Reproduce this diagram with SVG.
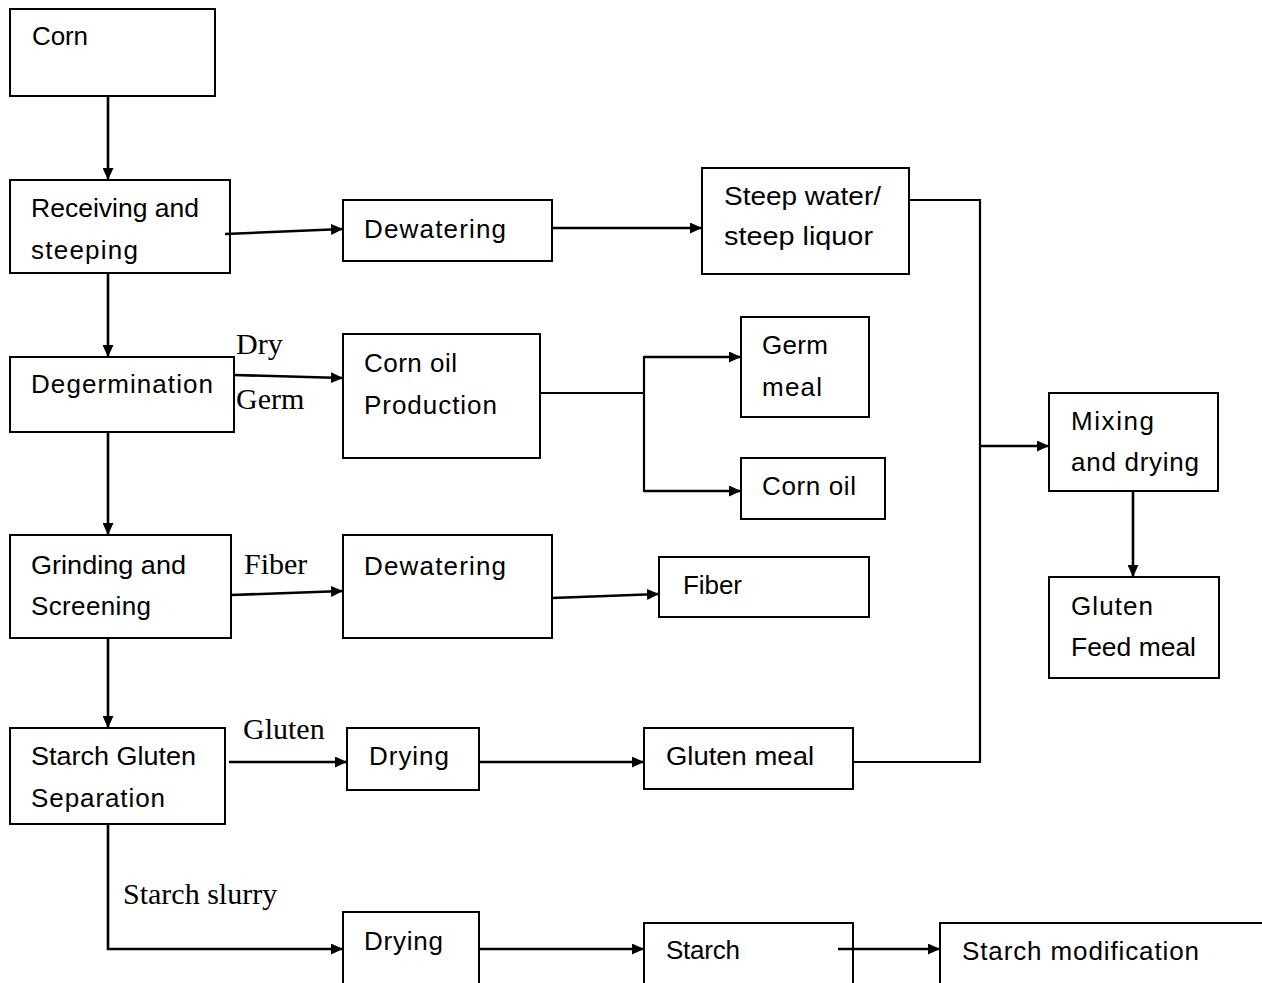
<svg xmlns="http://www.w3.org/2000/svg" width="1262" height="983" viewBox="0 0 1262 983">
<style>
.box{fill:#fff;stroke:#000;stroke-width:2}
.t{font-family:"Liberation Sans",Arial,sans-serif;font-size:26px;fill:#000}
.s{font-family:"Liberation Serif","Times New Roman",serif;font-size:30px;fill:#000}
.c{fill:none;stroke:#000;stroke-width:2.2}
.a{fill:none;stroke:#000;stroke-width:2.6;marker-end:url(#arr)}
</style>
<defs>
<marker id="arr" markerUnits="userSpaceOnUse" markerWidth="13" markerHeight="11" refX="12" refY="5.5" orient="auto">
<path d="M0,0 L12,5.5 L0,11 z" fill="#000"/>
</marker>
</defs>
<rect width="1262" height="983" fill="#fff"/>
<g id="nodes">
<g id="corn"><rect class="box" x="10" y="9" width="205" height="87"/><text class="t" x="32" y="45" textLength="56">Corn</text></g>
<g id="receiving"><rect class="box" x="10" y="180" width="220" height="93"/><text class="t" x="31" y="217" textLength="168" lengthAdjust="spacingAndGlyphs">Receiving and</text><text class="t" x="31" y="259" textLength="107">steeping</text></g>
<g id="dewatering1"><rect class="box" x="343" y="200" width="209" height="61"/><text class="t" x="364" y="238" textLength="142">Dewatering</text></g>
<g id="steep"><rect class="box" x="702" y="168" width="207" height="106"/><text class="t" x="724" y="205" textLength="157" lengthAdjust="spacingAndGlyphs">Steep water/</text><text class="t" x="724" y="245" textLength="149" lengthAdjust="spacingAndGlyphs">steep liquor</text></g>
<g id="degermination"><rect class="box" x="10" y="357" width="224" height="75"/><text class="t" x="31" y="393" textLength="182">Degermination</text></g>
<g id="label-drygerm"><text class="s" x="236" y="354">Dry</text><text class="s" x="236" y="409">Germ</text></g>
<g id="cornoilprod"><rect class="box" x="343" y="334" width="197" height="124"/><text class="t" x="364" y="372" textLength="93">Corn oil</text><text class="t" x="364" y="414" textLength="133">Production</text></g>
<g id="germmeal"><rect class="box" x="741" y="317" width="128" height="100"/><text class="t" x="762" y="354" textLength="66">Germ</text><text class="t" x="762" y="396" textLength="60">meal</text></g>
<g id="cornoil"><rect class="box" x="741" y="458" width="144" height="61"/><text class="t" x="762" y="495" textLength="94">Corn oil</text></g>
<g id="mixing"><rect class="box" x="1049" y="393" width="169" height="98"/><text class="t" x="1071" y="430" textLength="83">Mixing</text><text class="t" x="1071" y="471" textLength="128">and drying</text></g>
<g id="glutenfeed"><rect class="box" x="1049" y="577" width="170" height="101"/><text class="t" x="1071" y="615" textLength="82">Gluten</text><text class="t" x="1071" y="656" textLength="125" lengthAdjust="spacingAndGlyphs">Feed meal</text></g>
<g id="grinding"><rect class="box" x="10" y="535" width="221" height="103"/><text class="t" x="31" y="574" textLength="155" lengthAdjust="spacingAndGlyphs">Grinding and</text><text class="t" x="31" y="615" textLength="120">Screening</text></g>
<g id="label-fiber"><text class="s" x="244" y="574">Fiber</text></g>
<g id="dewatering2"><rect class="box" x="343" y="535" width="209" height="103"/><text class="t" x="364" y="575" textLength="142">Dewatering</text></g>
<g id="fiber"><rect class="box" x="659" y="557" width="210" height="60"/><text class="t" x="683" y="594" textLength="59">Fiber</text></g>
<g id="starchgluten"><rect class="box" x="10" y="728" width="215" height="96"/><text class="t" x="31" y="765" textLength="165" lengthAdjust="spacingAndGlyphs">Starch Gluten</text><text class="t" x="31" y="807" textLength="134">Separation</text></g>
<g id="label-gluten"><text class="s" x="243" y="739">Gluten</text></g>
<g id="drying1"><rect class="box" x="347" y="728" width="132" height="62"/><text class="t" x="369" y="765" textLength="80">Drying</text></g>
<g id="glutenmeal"><rect class="box" x="644" y="728" width="209" height="61"/><text class="t" x="666" y="765" textLength="148" lengthAdjust="spacingAndGlyphs">Gluten meal</text></g>
<g id="label-slurry"><text class="s" x="123" y="904">Starch slurry</text></g>
<g id="drying2"><rect class="box" x="343" y="912" width="136" height="90"/><text class="t" x="364" y="950" textLength="79">Drying</text></g>
<g id="starch"><rect class="box" x="644" y="923" width="209" height="80"/><text class="t" x="666" y="959" textLength="74">Starch</text></g>
<g id="starchmod"><rect class="box" x="940" y="923" width="340" height="80"/><text class="t" x="962" y="960" textLength="237">Starch modification</text></g>
</g>
<g id="connectors">
<line class="a" x1="108" y1="96" x2="108" y2="180"/>
<line class="a" x1="225" y1="234" x2="343" y2="229"/>
<line class="a" x1="552" y1="228" x2="702" y2="228"/>
<polyline class="c" points="909,200 980,200 980,762 853,762"/>
<line class="a" x1="980" y1="446" x2="1049" y2="446"/>
<line class="a" x1="1133" y1="491" x2="1133" y2="577"/>
<line class="a" x1="108" y1="273" x2="108" y2="357"/>
<line class="a" x1="234" y1="375" x2="343" y2="378"/>
<line class="c" x1="540" y1="393" x2="644" y2="393"/>
<line class="c" x1="644" y1="356" x2="644" y2="492"/>
<line class="a" x1="644" y1="357" x2="741" y2="357"/>
<line class="a" x1="644" y1="491" x2="741" y2="491"/>
<line class="a" x1="108" y1="432" x2="108" y2="535"/>
<line class="a" x1="231" y1="595" x2="343" y2="591"/>
<line class="a" x1="552" y1="598" x2="659" y2="594"/>
<line class="a" x1="108" y1="638" x2="108" y2="728"/>
<line class="a" x1="229" y1="762" x2="347" y2="762"/>
<line class="a" x1="479" y1="762" x2="644" y2="762"/>
<path class="a" d="M108,824 V949 H343"/>
<line class="a" x1="479" y1="949" x2="644" y2="949"/>
<line class="a" x1="838" y1="949" x2="940" y2="949"/>
</g>
</svg>
